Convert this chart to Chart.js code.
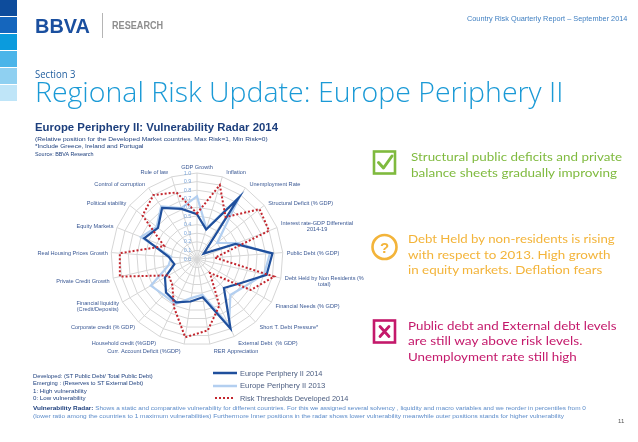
<!DOCTYPE html>
<html><head><meta charset="utf-8">
<script src="https://cdn.jsdelivr.net/npm/chart.js@4.4.1/dist/chart.umd.min.js"></script>
<style>
html,body{margin:0;padding:0;background:#fff;}
body{width:638px;height:442px;position:relative;overflow:hidden;font-family:"Liberation Sans",Arial,sans-serif;}
.t{position:absolute;white-space:nowrap;transform-origin:0 50%;display:inline-block;}
.sq{position:absolute;left:0;width:17px;height:16px;}
#chartBox{position:absolute;left:0;top:150px;width:400px;height:230px;}
</style></head><body>
<div class="sq" style="top:0;background:#0d4c9c"></div>
<div class="sq" style="top:17px;background:#1566bd"></div>
<div class="sq" style="top:34px;background:#0b9bdd"></div>
<div class="sq" style="top:51px;background:#4bb5e9"></div>
<div class="sq" style="top:68px;background:#8fd0f1"></div>
<div class="sq" style="top:85px;background:#bfe5f8"></div>
<div style="position:absolute;left:102px;top:13px;width:1px;height:25px;background:#b5b5b5"></div>

<div id="chartBox"><canvas id="c" width="400" height="230"></canvas></div>

<svg id="icons" width="638" height="442" style="position:absolute;left:0;top:0;pointer-events:none">
  <rect x="374" y="151.5" width="21" height="22" fill="none" stroke="#7fba3e" stroke-width="2.6"/>
  <path d="M378.5 162.5 L383.5 168 L392 156" fill="none" stroke="#7fba3e" stroke-width="3" stroke-linecap="round" stroke-linejoin="round"/>
  <circle cx="384.5" cy="247" r="12" fill="none" stroke="#f3b43a" stroke-width="2.6"/>
  <text x="384.5" y="252.5" font-family="Liberation Sans, Arial" font-weight="700" font-size="15" fill="#f3b43a" text-anchor="middle">?</text>
  <rect x="374" y="320.5" width="21" height="22" fill="none" stroke="#c4196b" stroke-width="2.6"/>
  <path d="M380 326.5 L389 336.5 M389 326.5 L380 336.5" fill="none" stroke="#c4196b" stroke-width="2.8" stroke-linecap="round"/>
</svg>

<div id="legend"></div>

<script>
// ---------------- data ----------------
const axisLabels = [
  "GDP Growth",
  "Inflation",
  "Unemployment Rate",
  "Structural Deficit (% GDP)",
  ["Interest rate-GDP Differential", "2014-19"],
  "Public Debt (% GDP)",
  ["Debt Held by Non Residents (%", "total)"],
  "Financial Needs (% GDP)",
  "Short T. Debt Pressure*",
  "External Debt  (% GDP)",
  "RER Appreciation",
  "Curr. Account Deficit (%GDP)",
  "Household credit (%GDP)",
  "Corporate credit (% GDP)",
  ["Financial liquidity", "(Credit/Deposits)"],
  "Private Credit Growth",
  "Real Housing Prices Growth",
  "Equity Markets",
  "Political stability",
  "Control of corruption",
  "Rule of law"
];
const periphery2014 = [0.52,0.36,0.86,0.10,0.48,0.88,0.83,0.57,0.46,0.90,0.45,0.50,0.56,0.53,0.43,0.27,0.33,0.66,0.58,0.72,0.61];
const periphery2013 = [0.73,0.37,0.88,0.30,0.51,0.85,0.80,0.64,0.57,0.86,0.42,0.46,0.58,0.57,0.62,0.34,0.30,0.70,0.60,0.74,0.62];
const riskThresholds = [0.53,0.90,0.59,0.93,0.90,0.21,0.92,0.72,0.22,0.60,0.84,0.92,0.62,0.42,0.38,0.92,0.90,0.41,0.81,0.90,0.81];
const seriesNames = ["Europe Periphery II 2014","Europe Periphery II 2013","Risk Thresholds Developed 2014"];
const scaleMin = 0, scaleMax = 1, scaleStep = 0.1;

// ---------------- texts ----------------
function addText(txt, left, cy, fs, weight, color, w, family, html){
  const el = document.createElement('div');
  el.className = 't';
  if (html) el.innerHTML = txt; else el.textContent = txt;
  el.style.left = left + 'px';
  el.style.fontSize = fs + 'px';
  el.style.lineHeight = (fs*1.2) + 'px';
  el.style.top = (cy - fs*0.6) + 'px';
  el.style.fontWeight = weight;
  el.style.color = color;
  if (family) el.style.fontFamily = family;
  el.dataset.w = w;
  document.body.appendChild(el);
  return el;
}
const NAVY = '#1d3f7d';
addText('BBVA', 35, 25.5, 21, 700, '#1a4f9f', 55);
addText('RESEARCH', 112, 26, 10, 700, '#8e8e8e', 51);
addText('Country Risk Quarterly Report – September 2014', 467, 19, 7.2, 400, '#3f7fc1', 160);
addText('Section 3', 35, 74, 10, 400, '#1f5d9e', 40, '"Open Sans", Lato, sans-serif');
addText('Regional Risk Update: Europe Periphery II', 35, 92, 28, 300, '#1b9ad6', 528, '"Open Sans", Lato, sans-serif');
addText('Europe Periphery II: Vulnerability Radar 2014', 35, 128, 11, 700, NAVY, 243);
addText('(Relative position for the Developed Market countries. Max Risk=1, Min Risk=0)', 35, 139.3, 5.6, 400, NAVY, 233);
addText('*Include Greece, Ireland and Portugal', 35, 146.7, 5.6, 400, NAVY, 109);
addText('Source: BBVA Research', 35, 154, 5.6, 400, NAVY, 59);

const RF = 'Lato, "Open Sans", sans-serif';
addText('Structural public deficits and private', 411, 157, 12, 400, '#7fba3e', 211, RF);
addText('balance sheets gradually improving', 411, 173, 12, 400, '#7fba3e', 206, RF);
addText('Debt Held by non-residents is rising', 408, 239.5, 12, 400, '#f3b43a', 207, RF);
addText('with respect to 2013. High growth', 408, 255, 12, 400, '#f3b43a', 203, RF);
addText('in equity markets. Deflation fears', 408, 270.5, 12, 400, '#f3b43a', 194, RF);
addText('Public debt and External debt levels', 408, 326, 12, 400, '#c4196b', 209, RF);
addText('are still way above risk levels.', 408, 341, 12, 400, '#c4196b', 174, RF);
addText('Unemployment rate still high', 408, 357, 12, 400, '#c4196b', 169, RF);

addText('Developed: (ST Public Debt/ Total Public Debt)', 33, 376, 5.6, 400, NAVY, 120);
addText('Emerging :  (Reserves to ST External Debt)', 33, 383.5, 5.6, 400, NAVY, 110);
addText('1: High vulnerability', 33, 391, 5.6, 400, NAVY, 54);
addText('0: Low vulnerability', 33, 398, 5.6, 400, NAVY, 53);
addText('<b style="color:#1d3f7d">Vulnerability Radar:</b> Shows a static and comparative vulnerability for different countries. For this we assigned several solvency , liquidity and macro variables and we reorder in percentiles from 0', 33, 408, 5.6, 400, '#5b8bc9', 553, null, true);
addText('(lower ratio among the countries to 1 maximum vulnerabilities) Furthermore Inner positions in the radar shows lower vulnerability meanwhile outer positions stands for higher vulnerability', 33, 416, 5.6, 400, '#5b8bc9', 531);
addText('11', 618, 422, 6, 400, '#555', 6);

// ---------------- chart ----------------
const colors = ['#1f4f9c', '#b3cff0', '#c3262e'];
const seriesData = [periphery2014, periphery2013, riskThresholds];

const radarText = {
  id: 'radarText',
  afterDraw(chart) {
    const s = chart.scales.r, ctx = chart.ctx;
    ctx.save();
    ctx.font = '5.5px "Liberation Sans", Arial';
    ctx.fillStyle = '#7ea8dc';
    ctx.textAlign = 'center';
    ctx.textBaseline = 'middle';
    s.ticks.forEach(t => {
      const d = s.getDistanceFromCenterForValue(t.value);
      ctx.fillText(Number(t.value).toFixed(1), s.xCenter - 9.5, s.yCenter - d);
    });
    ctx.fillStyle = '#3a5894';
    ctx.font = '5.6px "Liberation Sans", Arial';
    const labels = chart.data.labels, n = labels.length;
    labels.forEach((lab, i) => {
      const lines = Array.isArray(lab) ? lab : [lab];
      const p = s.getPointPosition(i, s.drawingArea);
      const th = i * 2 * Math.PI / n;
      const sn = Math.sin(th), cs = Math.cos(th);
      let x, y, align;
      if (i === 0) { x = p.x; y = p.y - 6; align = 'center'; }
      else if (sn > 0) { x = p.x + 4; y = p.y + 1.5 - 6 * cs; align = 'left'; }
      else { x = p.x - 3.5; y = p.y + 1.5 - 6 * cs; align = 'right'; }
      const bw = Math.max(...lines.map(l => ctx.measureText(l).width));
      const cx = align === 'left' ? x + bw / 2 : align === 'right' ? x - bw / 2 : x;
      ctx.textAlign = 'center';
      lines.forEach((l, k) => ctx.fillText(l, cx, y + (k - (lines.length - 1) / 2) * 6));
    });
    ctx.restore();
  }
};

new Chart(document.getElementById('c'), {
  type: 'radar',
  data: {
    labels: axisLabels,
    datasets: seriesNames.map((name, k) => ({
      label: name,
      data: seriesData[k],
      borderColor: colors[k],
      backgroundColor: 'transparent',
      borderWidth: k === 2 ? 2 : 2.2,
      borderDash: k === 2 ? [2, 2] : [],
      pointRadius: 0,
      pointHoverRadius: 0,
      fill: false,
      tension: 0,
      order: [2, 3, 1][k]
    }))
  },
  options: {
    responsive: false,
    animation: false,
    layout: { padding: { left: 111, right: 117, top: 23, bottom: 35 } },
    plugins: { legend: { display: false }, tooltip: { enabled: false }, title: { display: false } },
    scales: {
      r: {
        min: scaleMin, max: scaleMax,
        ticks: { display: false, stepSize: scaleStep },
        grid: { color: '#d6d6d6', lineWidth: 1 },
        angleLines: { color: '#d6d6d6', lineWidth: 1 },
        pointLabels: { display: false }
      }
    }
  },
  plugins: [radarText]
});

// ---------------- legend ----------------
const lg = document.getElementById('legend');
const legY = [373, 385.5, 398];
seriesNames.forEach((name, k) => {
  const svg = document.createElementNS('http://www.w3.org/2000/svg', 'svg');
  svg.setAttribute('width', '26'); svg.setAttribute('height', '6');
  svg.style.position = 'absolute'; svg.style.left = '212px'; svg.style.top = (legY[k] - 3) + 'px';
  const ln = document.createElementNS('http://www.w3.org/2000/svg', 'line');
  ln.setAttribute('x1', k === 2 ? '3' : '1'); ln.setAttribute('x2', k === 2 ? '23' : '25');
  ln.setAttribute('y1', '3'); ln.setAttribute('y2', '3');
  ln.setAttribute('stroke', colors[k]);
  ln.setAttribute('stroke-width', k === 2 ? '2' : '2.5');
  if (k === 2) ln.setAttribute('stroke-dasharray', '2 2');
  svg.appendChild(ln);
  lg.appendChild(svg);
  const w = [82, 85, 108][k];
  addText(name, 240, legY[k], 7.5, 400, '#4b5d80', w);
});

function fitAll(){
  document.querySelectorAll('.t').forEach(el => {
    el.style.transform = 'none';
    const w = el.offsetWidth;
    const target = parseFloat(el.dataset.w);
    if (w > 0 && target > 0) el.style.transform = 'scaleX(' + (target / w) + ')';
  });
}
fitAll();
if (document.fonts && document.fonts.ready) document.fonts.ready.then(fitAll);
</script>
</body></html>
